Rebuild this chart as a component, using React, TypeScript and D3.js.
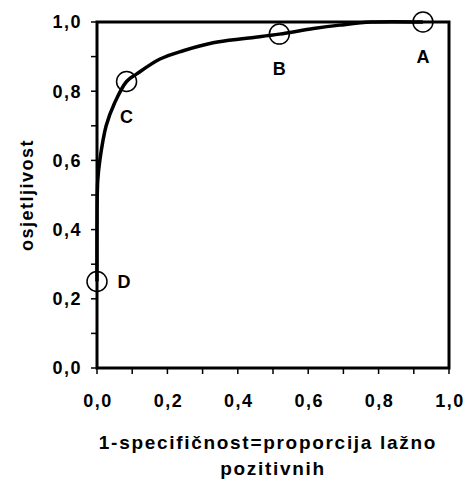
import React, { useEffect, useRef } from "react";
import * as d3 from "d3";

// ROC curve
const fpr = [0, 0, 0.002, 0.008, 0.026, 0.05, 0.084, 0.113, 0.179, 0.245, 0.33, 0.425, 0.518, 0.615, 0.69, 0.78, 0.926];
const tpr = [0.25, 0.4, 0.54, 0.6, 0.7, 0.766, 0.828, 0.85, 0.893, 0.917, 0.94, 0.953, 0.965, 0.981, 0.991, 1.0, 1.0];

const pointNames = ["A", "B", "C", "D"];
const pointX = [0.926, 0.518, 0.084, 0];
const pointY = [1.0, 0.965, 0.828, 0.25];

const majorTicks = [0, 0.2, 0.4, 0.6, 0.8, 1.0];
const minorTicks = [0.1, 0.3, 0.5, 0.7, 0.9];

const yTitle = "osjetljivost";
const xTitle1 = "1-specifičnost=proporcija lažno";
const xTitle2 = "pozitivnih";

const fmt = (v: number) => v.toFixed(1).replace(".", ",");

export default function App() {
  const ref = useRef<SVGSVGElement | null>(null);

  useEffect(() => {
    const width = 473;
    const height = 483;
    const left = 97;
    const right = 449;
    const top = 22;
    const bottom = 368;
    const font = "Liberation Sans, Arial, sans-serif";

    const svg = d3.select(ref.current);
    svg.selectAll("*").remove();
    svg.attr("width", width).attr("height", height);

    const x = d3.scaleLinear().domain([0, 1]).range([left, right]);
    const y = d3.scaleLinear().domain([0, 1]).range([bottom, top]);

    // ticks
    const allTicks = majorTicks.concat(minorTicks);
    svg
      .append("g")
      .selectAll("line")
      .data(allTicks)
      .join("line")
      .attr("x1", left - 6)
      .attr("x2", left)
      .attr("y1", (d) => y(d))
      .attr("y2", (d) => y(d))
      .attr("stroke", "#000")
      .attr("stroke-width", 1.5);

    svg
      .append("g")
      .selectAll("line")
      .data(allTicks)
      .join("line")
      .attr("x1", (d) => x(d))
      .attr("x2", (d) => x(d))
      .attr("y1", bottom)
      .attr("y2", bottom + 6)
      .attr("stroke", "#000")
      .attr("stroke-width", 1.5);

    // tick labels
    svg
      .append("g")
      .selectAll("text")
      .data(majorTicks)
      .join("text")
      .attr("x", left - 15)
      .attr("y", (d) => y(d))
      .attr("dy", "0.35em")
      .attr("text-anchor", "end")
      .style("font-family", font)
      .style("font-weight", "bold")
      .style("font-size", "18px")
      .style("letter-spacing", "1.5px")
      .text((d) => fmt(d));

    svg
      .append("g")
      .selectAll("text")
      .data(majorTicks)
      .join("text")
      .attr("x", (d) => x(d) + 1)
      .attr("y", 407)
      .attr("text-anchor", "middle")
      .style("font-family", font)
      .style("font-weight", "bold")
      .style("font-size", "18px")
      .style("letter-spacing", "1.5px")
      .text((d) => fmt(d));

    // axis titles
    svg
      .append("text")
      .attr("transform", `translate(33,${(top + bottom) / 2}) rotate(-90)`)
      .attr("text-anchor", "middle")
      .style("font-family", font)
      .style("font-weight", "bold")
      .style("font-size", "18px")
      .style("letter-spacing", "1.5px")
      .text(yTitle);

    svg
      .append("text")
      .attr("x", 268)
      .attr("y", 449)
      .attr("text-anchor", "middle")
      .style("font-family", font)
      .style("font-weight", "bold")
      .style("font-size", "19px")
      .style("letter-spacing", "1.7px")
      .text(xTitle1);

    svg
      .append("text")
      .attr("x", (left + right) / 2)
      .attr("y", 475)
      .attr("text-anchor", "middle")
      .style("font-family", font)
      .style("font-weight", "bold")
      .style("font-size", "19px")
      .style("letter-spacing", "1.7px")
      .text(xTitle2);

    // ROC curve
    const line = d3
      .line<number>()
      .x((d, i) => x(fpr[i]))
      .y((d) => y(d))
      .curve(d3.curveCatmullRom.alpha(0.5));

    svg
      .append("path")
      .attr("d", line(tpr))
      .attr("fill", "none")
      .attr("stroke", "#000")
      .attr("stroke-width", 3.5)
      .attr("stroke-linejoin", "round");

    // frame
    svg
      .append("rect")
      .attr("x", left)
      .attr("y", top)
      .attr("width", right - left)
      .attr("height", bottom - top)
      .attr("fill", "none")
      .attr("stroke", "#000")
      .attr("stroke-width", 3);

    // marked points
    svg
      .append("g")
      .selectAll("circle")
      .data(pointNames)
      .join("circle")
      .attr("cx", (d, i) => x(pointX[i]))
      .attr("cy", (d, i) => y(pointY[i]))
      .attr("r", 10)
      .attr("fill", "none")
      .attr("stroke", "#000")
      .attr("stroke-width", 1.5);

    svg
      .append("g")
      .selectAll("text")
      .data(pointNames)
      .join("text")
      .attr("x", (d, i) => x(pointX[i]) + (d === "D" ? 27 : 0))
      .attr("y", (d, i) => y(pointY[i]) + (d === "D" ? 0 : 35))
      .attr("dy", "0.35em")
      .attr("text-anchor", "middle")
      .style("font-family", font)
      .style("font-weight", "bold")
      .style("font-size", "18px")
      .text((d) => d);
  }, []);

  return (
    <svg
      ref={ref}
      style={{ position: "absolute", left: 0, top: 0, display: "block", background: "#fff" }}
    />
  );
}
